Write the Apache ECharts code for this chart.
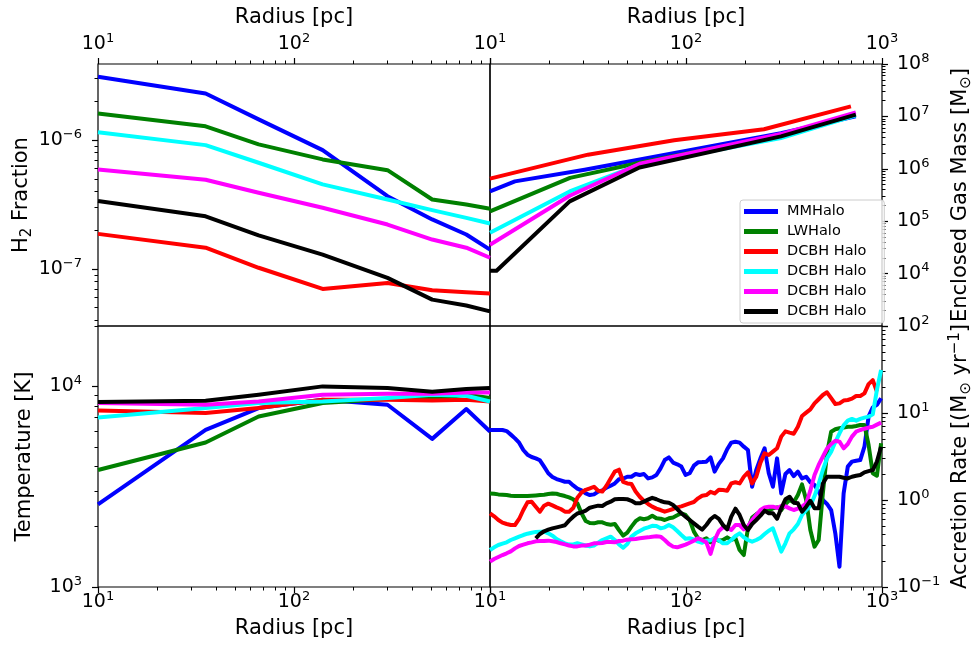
<!DOCTYPE html>
<html>
<head>
<meta charset="utf-8">
<script src="https://cdn.jsdelivr.net/npm/echarts@6/dist/echarts.min.js"></script>
<style>
  html, body { margin: 0; padding: 0; background: #fff; }
  #chart { width: 980px; height: 653px; }
</style>
</head>
<body>
<div id="chart"></div>
<script>
// halo names and colours (names padded so the four DCBH entries stay separate)
const haloNames = ['MMHalo', 'LWHalo', 'DCBH Halo', 'DCBH Halo ', 'DCBH Halo  ', 'DCBH Halo   ']
const haloColors = ['#0000ff', '#008000', '#ff0000', '#00ffff', '#ff00ff', '#000000']

// radial profile bins [pc] used by the H2 fraction and temperature panels
const profileRadius = [10, 35.4, 66, 140, 300, 507, 757, 1000]

// H2 fraction
const h2MM = [3.11e-6, 2.30e-6, 1.45e-6, 8.36e-7, 3.67e-7, 2.42e-7, 1.85e-7, 1.41e-7]
const h2LW = [1.61e-6, 1.28e-6, 9.26e-7, 7.08e-7, 5.84e-7, 3.46e-7, 3.16e-7, 2.93e-7]
const h2DCBH1 = [1.87e-7, 1.46e-7, 1.02e-7, 6.99e-8, 7.78e-8, 6.82e-8, 6.58e-8, 6.43e-8]
const h2DCBH2 = [1.15e-6, 9.14e-7, 6.67e-7, 4.53e-7, 3.46e-7, 2.86e-7, 2.49e-7, 2.25e-7]
const h2DCBH3 = [5.92e-7, 4.92e-7, 3.90e-7, 2.98e-7, 2.21e-7, 1.69e-7, 1.46e-7, 1.22e-7]
const h2DCBH4 = [3.36e-7, 2.56e-7, 1.82e-7, 1.29e-7, 8.51e-8, 5.77e-8, 5.19e-8, 4.68e-8]

// temperature [K]
const tMM = [2580, 6070, 7800, 8580, 8100, 5475, 7710, 5960]
const tLW = [3830, 5250, 7080, 8260, 8650, 8650, 9090, 8750]
const tDCBH1 = [7590, 7360, 7800, 8580, 8580, 8510, 8580, 8410]
const tDCBH2 = [7000, 7800, 8260, 8410, 8750, 9090, 8980, 8410]
const tDCBH3 = [8260, 8100, 8410, 9090, 9190, 9190, 9330, 9330]
const tDCBH4 = [8350, 8480, 9090, 10000, 9820, 9410, 9700, 9820]

// enclosed gas mass [Msun] as [radius pc, mass]
const massMM = [[10, 3.7e5], [13.4, 5.75e5], [30.4, 9.6e5], [305, 4.8e6], [735, 1.0e7]]
const massLW = [[10, 1.54e5], [25.6, 6.7e5], [58, 1.3e6], [305, 4.4e6], [735, 1.1e7]]
const massDCBH1 = [[10, 6.5e5], [31.6, 1.86e6], [87, 3.5e6], [250, 5.7e6], [694, 1.55e7]]
const massDCBH2 = [[10, 6.0e4], [25.5, 3.7e5], [58, 1.2e6], [305, 3.87e6], [735, 1.05e7]]
const massDCBH3 = [[10, 3.56e4], [25.5, 3.06e5], [58, 1.25e6], [305, 4.6e6], [735, 1.19e7]]
const massDCBH4 = [[10, 1.13e4], [10.8, 1.13e4], [25.5, 2.39e5], [57.9, 1.06e6], [305, 4.15e6], [735, 1.08e7]]

// accretion rate [Msun/yr] sampled on a common radius grid [pc]
const accRadius = [10.0, 10.50, 11.03, 11.58, 12.16, 12.77, 13.41, 14.08, 14.79, 15.53, 16.31, 17.12,
  17.98, 18.88, 19.83, 20.82, 21.86, 22.96, 24.11, 25.31, 26.58, 27.91, 29.31, 30.78,
  32.32, 33.94, 35.64, 37.42, 39.29, 41.27, 43.33, 45.50, 47.78, 50.17, 52.68, 55.33,
  58.09, 61.00, 64.05, 67.27, 70.63, 74.18, 77.88, 81.79, 85.9, 90.19, 94.7, 99.45,
  104.4, 109.7, 115.2, 120.9, 127.0, 133.4, 140.0, 147.1, 154.4, 162.2, 170.2, 178.8,
  187.7, 197.2, 207.0, 217.4, 228.3, 239.8, 251.8, 264.4, 277.6, 291.5, 306.2, 321.5,
  337.6, 354.4, 372.2, 390.8, 410.4, 430.9, 452.6, 475.2, 499.1, 524.0, 550.4, 577.8,
  606.8, 637.1, 669.1, 702.5, 737.8, 774.6, 813.6, 854.2, 897.2, 941.9, 989.3]
const accMM = [6.38, 6.38, 6.38, 6.38, 6.2, 5.64, 5.11, 4.56, 3.76, 3.32, 3.12, 3.01,
  2.86, 2.42, 2.03, 1.84, 1.74, 1.68, 1.62, 1.62, 1.47, 1.35, 1.29, 1.19,
  1.14, 1.16, 1.25, 1.29, 1.39, 1.46, 1.55, 1.73, 1.76, 1.85, 1.85, 1.99,
  1.94, 1.99, 1.77, 1.82, 1.94, 2.31, 2.88, 3.09, 2.69, 2.57, 2.42, 1.94,
  2.03, 2.48, 2.71, 2.73, 2.76, 3.09, 2.12, 2.60, 3.01, 3.83, 4.56, 4.68,
  4.56, 4.10, 3.76, 1.42, 2.21, 3.01, 3.93, 2.03, 1.42, 3.01, 1.19, 1.99,
  2.21, 1.88, 2.12, 1.77, 1.85, 1.60, 1.49, 1.25, 1.00, 0.90, 0.767, 0.414,
  0.171, 1.19, 2.42, 2.76, 2.83, 2.88, 4.10, 9.08, 11.6, 12.4, 14.8]
const accLW = [1.19, 1.18, 1.16, 1.15, 1.14, 1.12, 1.11, 1.11, 1.11, 1.11, 1.12, 1.13,
  1.14, 1.15, 1.17, 1.19, 1.18, 1.14, 1.11, 1.07, 1.02, 0.916, 0.703, 0.574,
  0.544, 0.539, 0.554, 0.554, 0.530, 0.52, 0.53, 0.452, 0.389, 0.421, 0.494, 0.57,
  0.616, 0.60, 0.616, 0.66, 0.616, 0.61, 0.589, 0.616, 0.63, 0.667, 0.703, 0.673,
  0.589, 0.433, 0.363, 0.347, 0.363, 0.327, 0.363, 0.341, 0.347, 0.372, 0.347, 0.363,
  0.266, 0.233, 0.472, 0.627, 0.685, 0.734, 0.754, 0.754, 0.802, 0.823, 0.767, 0.90,
  1.0, 0.94, 1.14, 1.51, 1.0, 0.452, 0.291, 0.347, 1.19, 3.44, 6.10, 6.5,
  6.67, 6.8, 6.96, 6.96, 7.1, 7.28, 7.28, 4.29, 2.03, 1.9, 4.48]
const accDCBH1 = [0.703, 0.649, 0.589, 0.549, 0.530, 0.516, 0.516, 0.605, 0.767, 0.94, 0.957, 0.838,
  0.734, 0.86, 0.908, 0.868, 0.823, 0.788, 0.734, 0.734, 0.81, 1.06, 1.22, 1.31,
  1.36, 1.42, 1.28, 1.25, 1.46, 1.77, 2.12, 2.23, 1.62, 1.55, 1.53, 1.25,
  1.09, 0.974, 0.90, 0.838, 0.795, 0.767, 0.734, 0.76, 0.788, 0.823, 0.845, 0.88,
  0.916, 0.948, 1.045, 1.12, 1.14, 1.24, 1.19, 1.31, 1.30, 1.28, 1.55, 1.60,
  1.55, 1.85, 2.08, 1.55, 1.85, 2.69, 3.44, 3.29, 3.60, 3.93, 5.35, 6.15,
  5.94, 5.78, 6.96, 9.25, 10.1, 11.0, 12.9, 14.4, 16.1, 17.3, 14.8, 12.7,
  12.9, 13.9, 14.1, 14.6, 15.7, 15.7, 16.8, 21.5, 23.9, 17.6, null]
const accDCBH2 = [0.266, 0.286, 0.304, 0.315, 0.326, 0.347, 0.363, 0.38, 0.396, 0.41, 0.421, 0.43,
  0.433, 0.433, 0.414, 0.389, 0.356, 0.335, 0.318, 0.307, 0.309, 0.318, 0.309, 0.30,
  0.293, 0.30, 0.323, 0.347, 0.363, 0.379, 0.347, 0.309, 0.283, 0.312, 0.379, 0.414,
  0.44, 0.468, 0.485, 0.505, 0.502, 0.472, 0.485, 0.516, 0.485, 0.44, 0.396, 0.359,
  0.363, 0.353, 0.332, 0.323, 0.341, 0.344, 0.363, 0.344, 0.318, 0.318, 0.347, 0.386,
  0.414, 0.372, 0.347, 0.332, 0.347, 0.369, 0.406, 0.444, 0.472, 0.347, 0.255, 0.318,
  0.414, 0.46, 0.53, 0.673, 0.767, 0.86, 1.11, 1.53, 2.21, 3.01, 3.60, 4.64,
  5.84, 7.2, 8.16, 8.55, 8.16, 8.55, 8.85, 9.08, 9.65, 18.4, 31.2]
const accDCBH3 = [0.196, 0.21, 0.221, 0.233, 0.244, 0.257, 0.278, 0.296, 0.307, 0.318, 0.326, 0.335,
  0.338, 0.338, 0.341, 0.335, 0.329, 0.318, 0.309, 0.30, 0.293, 0.293, 0.299, 0.30,
  0.307, 0.318, 0.318, 0.32, 0.329, 0.329, 0.326, 0.338, 0.341, 0.35, 0.353, 0.356,
  0.363, 0.369, 0.372, 0.379, 0.382, 0.379, 0.347, 0.312, 0.291, 0.286, 0.296, 0.307,
  0.323, 0.341, 0.363, 0.344, 0.326, 0.24, 0.347, 0.44, 0.485, 0.48, 0.452, 0.516,
  0.516, 0.46, 0.494, 0.589, 0.673, 0.767, 0.823, 0.838, 0.838, 0.81, 0.853, 0.845,
  0.802, 0.767, 0.795, 0.838, 0.916, 1.28, 1.94, 2.53, 3.15, 3.9, 4.4, 4.8,
  4.68, 3.93, 4.4, 5.35, 6.10, 6.38, 6.6, 6.8, 6.96, 7.35, 7.74]
const accDCBH4 = [null, null, null, null, null, null, null, null, null, null, null, 0.363,
  0.407, 0.437, 0.456, 0.472, 0.485, 0.498, 0.512, 0.579, 0.643, 0.70, 0.721, 0.754,
  0.816, 0.838, 0.861, 0.853, 0.916, 0.957, 1.02, 1.03, 1.03, 1.02, 0.98, 0.916,
  0.916, 0.957, 1.01, 1.06, 1.02, 0.974, 0.94, 0.932, 0.876, 0.788, 0.703, 0.643,
  0.589, 0.539, 0.494, 0.456, 0.516, 0.60, 0.655, 0.605, 0.516, 0.46, 0.643, 0.795,
  0.673, 0.516, 0.452, 0.53, 0.589, 0.66, 0.754, 0.703, 0.703, 0.61, 0.802, 1.02,
  1.09, 0.932, 0.916, 0.734, 0.838, 0.98, 0.802, 0.802, 1.55, 1.85, 1.85, 1.85,
  1.85, 1.8, 1.77, 1.85, 1.9, 1.94, 2.08, 2.15, 2.21, 2.76, 4.10]

// tick labels
const radiusTicks = [10, 100, 1000]
const radiusLabelsLeft = [10, 100]
const h2Ticks = [1e-7, 1e-6]
const massTicks = [1e3, 1e4, 1e5, 1e6, 1e7, 1e8]
const massLabels = [1e4, 1e5, 1e6, 1e7, 1e8]
const tempTicks = [1e3, 1e4]
const accTicks = [0.1, 1, 10, 100]

const FONT = 'DejaVu Sans'

function minorTicks(lo, hi) {
  const out = []
  for (let e = Math.floor(Math.log10(lo)); e < Math.ceil(Math.log10(hi)); e++) {
    for (let k = 2; k <= 9; k++) {
      const v = k * Math.pow(10, e)
      if (v > lo * 1.0001 && v < hi * 1.0001) out.push(v)
    }
  }
  return out
}

function powLabel(v) {
  const e = Math.round(Math.log10(v))
  return '{b|10}{e|' + (e < 0 ? '\u2212' + (-e) : e) + '}'
}

const tickRich = {
  b: { fontSize: 19, lineHeight: 24, color: '#000', fontFamily: FONT },
  e: { fontSize: 13, lineHeight: 13, verticalAlign: 'top', color: '#000', fontFamily: FONT }
}
const nameRich = {
  s: { fontSize: 15, lineHeight: 15, verticalAlign: 'bottom', color: '#000', fontFamily: FONT },
  p: { fontSize: 15, lineHeight: 15, verticalAlign: 'top', color: '#000', fontFamily: FONT }
}
const nameStyle = { fontSize: 21, lineHeight: 26, color: '#000', fontFamily: FONT, rich: nameRich }

function majorAxis(o) {
  return {
    type: 'log', logBase: 10, gridIndex: o.grid, position: o.pos, min: o.min, max: o.max,
    axisLine: { show: false, onZero: false },
    splitLine: { show: false },
    axisTick: { show: true, length: 6, lineStyle: { color: '#000', width: 1.2 }, customValues: o.ticks },
    axisLabel: { show: true, customValues: o.labels, formatter: powLabel, rich: tickRich, margin: o.margin },
    name: o.name || '', nameLocation: 'middle', nameGap: o.nameGap || 0, nameTextStyle: nameStyle
  }
}
function minorAxis(o) {
  return {
    type: 'log', logBase: 10, gridIndex: o.grid, position: o.pos, min: o.min, max: o.max,
    axisLine: { show: false, onZero: false },
    splitLine: { show: false },
    axisTick: { show: true, length: 3.5, lineStyle: { color: '#000', width: 1 }, customValues: minorTicks(o.min, o.max) },
    axisLabel: { show: false }
  }
}

const xDefs = [
  { grid: 0, pos: 'top', min: 10, max: 1000, ticks: radiusTicks, labels: radiusLabelsLeft, margin: 7.5, name: 'Radius [pc]', nameGap: 33 },
  { grid: 1, pos: 'top', min: 10, max: 1000, ticks: radiusTicks, labels: radiusTicks, margin: 7.5, name: 'Radius [pc]', nameGap: 33 },
  { grid: 2, pos: 'bottom', min: 10, max: 1000, ticks: radiusTicks, labels: radiusLabelsLeft, margin: 3, name: 'Radius [pc]', nameGap: 29 },
  { grid: 3, pos: 'bottom', min: 10, max: 1000, ticks: radiusTicks, labels: radiusTicks, margin: 3, name: 'Radius [pc]', nameGap: 29 }
]
const yDefs = [
  { grid: 0, pos: 'left', min: 3.6e-8, max: 3.9e-6, ticks: h2Ticks, labels: h2Ticks, margin: 16, name: 'H{s|2} Fraction', nameGap: 60 },
  { grid: 1, pos: 'right', min: 1e3, max: 1e8, ticks: massTicks, labels: massLabels, margin: 15, name: 'Enclosed Gas Mass [M{s|\u2299}]', nameGap: 66 },
  { grid: 2, pos: 'left', min: 1e3, max: 2e4, ticks: tempTicks, labels: tempTicks, margin: 16, name: 'Temperature [K]', nameGap: 60 },
  { grid: 3, pos: 'right', min: 0.1, max: 100, ticks: accTicks, labels: accTicks, margin: 15, name: 'Accretion Rate [(M{s|\u2299} yr{p|\u22121}]', nameGap: 66 }
]

const gridBox = { show: true, borderColor: '#000', borderWidth: 1.2, backgroundColor: 'rgba(0,0,0,0)', outerBoundsMode: 'none' }

function pairs(xs, ys) {
  return xs.map((x, i) => [x, ys[i]]).filter(p => p[1] != null)
}

const panels = [
  [h2MM, h2LW, h2DCBH1, h2DCBH2, h2DCBH3, h2DCBH4].map(a => pairs(profileRadius, a)),
  [massMM, massLW, massDCBH1, massDCBH2, massDCBH3, massDCBH4],
  [tMM, tLW, tDCBH1, tDCBH2, tDCBH3, tDCBH4].map(a => pairs(profileRadius, a)),
  [accMM, accLW, accDCBH1, accDCBH2, accDCBH3, accDCBH4].map(a => pairs(accRadius, a))
]

const series = []
panels.forEach((sets, p) => {
  sets.forEach((data, i) => {
    series.push({
      type: 'line', name: haloNames[i], xAxisIndex: p, yAxisIndex: p, data: data,
      showSymbol: false, symbol: 'none', color: haloColors[i],
      lineStyle: { width: 4, color: haloColors[i], join: 'round' },
      emphasis: { disabled: true }
    })
  })
})

const chart = echarts.init(document.getElementById('chart'), null, { renderer: 'canvas' })
chart.setOption({
  animation: false,
  backgroundColor: '#fff',
  textStyle: { fontFamily: FONT },
  grid: [
    Object.assign({ left: 98, top: 64, width: 392, height: 262 }, gridBox),
    Object.assign({ left: 490, top: 64, width: 392, height: 262 }, gridBox),
    Object.assign({ left: 98, top: 326, width: 392, height: 261 }, gridBox),
    Object.assign({ left: 490, top: 326, width: 392, height: 261 }, gridBox)
  ],
  xAxis: xDefs.map(majorAxis).concat(xDefs.map(minorAxis)),
  yAxis: yDefs.map(majorAxis).concat(yDefs.map(minorAxis)),
  legend: {
    data: haloNames, orient: 'vertical', left: 740, top: 200,
    icon: 'rect', itemWidth: 34, itemHeight: 5, itemGap: 5,
    textStyle: { fontSize: 14.5, color: '#000', fontFamily: FONT, padding: [0, 0, 0, 4] },
    borderColor: '#cccccc', borderWidth: 1, borderRadius: 3, padding: [4, 4, 4, 4],
    backgroundColor: 'rgba(255,255,255,0.8)'
  },
  series: series
})
</script>
</body>
</html>
